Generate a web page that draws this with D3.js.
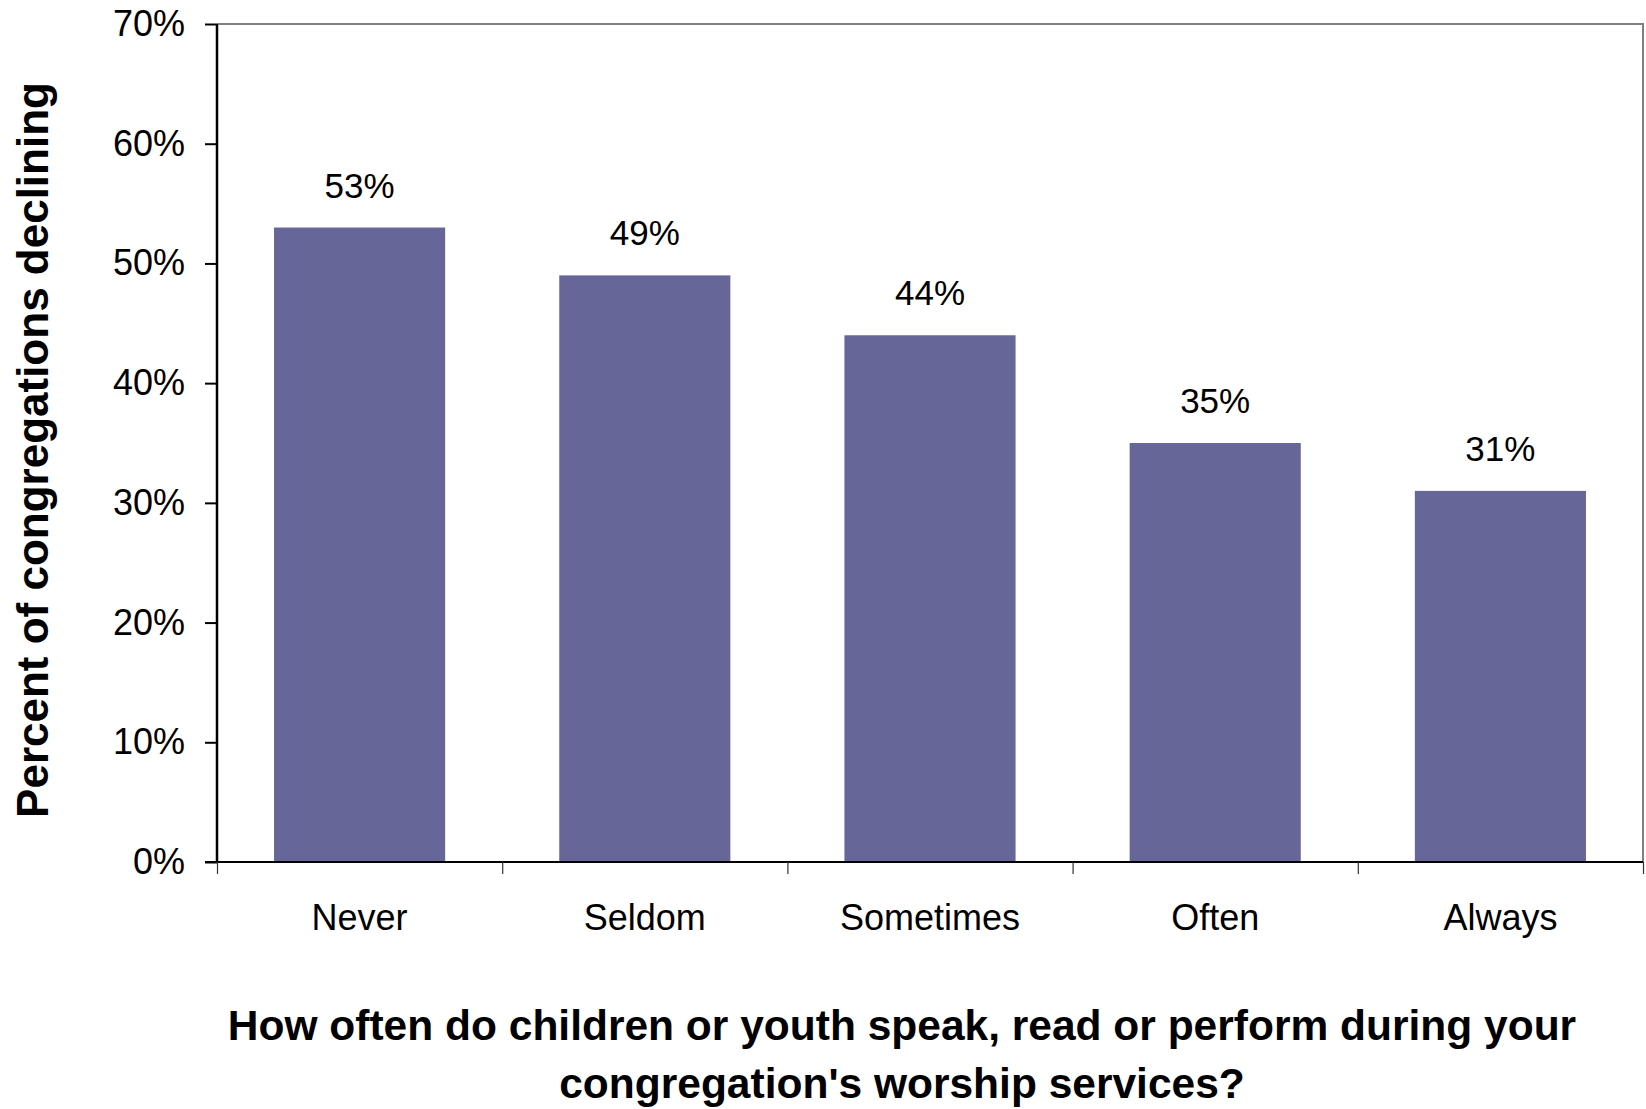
<!DOCTYPE html>
<html>
<head>
<meta charset="utf-8">
<script src="https://cdn.jsdelivr.net/npm/d3@7"></script>
<style>
  html, body { margin: 0; padding: 0; background: #fff; }
  svg { display: block; }
  text { font-family: "Liberation Sans", Arial, sans-serif; fill: #000; }
</style>
</head>
<body>
<svg id="chart" width="1646" height="1109"></svg>
<script>
const categories = ["Never", "Seldom", "Sometimes", "Often", "Always"];
const values = [0.53, 0.49, 0.44, 0.35, 0.31];
const yTicks = [0, 0.1, 0.2, 0.3, 0.4, 0.5, 0.6, 0.7];
const yTitle = "Percent of congregations declining";
const xTitleLines = ["How often do children or youth speak, read or perform during your",
                     "congregation's worship services?"];

const svg = d3.select("#chart");
const m = { left: 217, right: 1643, top: 24, bottom: 862 };

const x = d3.scaleBand().domain(categories).range([m.left, m.right])
  .paddingInner(0.4).paddingOuter(0.2);
const xEdges = d3.scaleLinear().domain([0, categories.length]).range([m.left, m.right]);
const y = d3.scaleLinear().domain([0, 0.7]).range([m.bottom, m.top]);

// plot frame top & right (gray)
svg.append("path")
  .attr("d", `M${m.left},${m.top}H${m.right}V${m.bottom}`)
  .attr("fill", "none").attr("stroke", "#808080").attr("stroke-width", 2);

// bars
svg.append("g").selectAll("rect").data(values).join("rect")
  .attr("x", (d, i) => x(categories[i]))
  .attr("width", x.bandwidth())
  .attr("y", d => y(d))
  .attr("height", d => y(0) - y(d))
  .attr("fill", "#666699");

// value labels
svg.append("g").selectAll("text").data(values).join("text")
  .attr("x", (d, i) => x(categories[i]) + x.bandwidth() / 2)
  .attr("y", d => y(d) - 30)
  .attr("text-anchor", "middle")
  .attr("font-size", 35)
  .text(d => d3.format(".0%")(d));

// y axis
const yAxis = svg.append("g").attr("transform", `translate(${m.left},0)`)
  .call(d3.axisLeft(y).tickValues(yTicks).tickFormat(d3.format(".0%"))
    .tickSize(12).tickPadding(20));
yAxis.select(".domain").attr("stroke", "#000").attr("stroke-width", 2.5)
  .attr("d", `M0,${m.top}V${m.bottom}`);
yAxis.selectAll(".tick line").attr("stroke", "#000").attr("stroke-width", 2);
yAxis.selectAll(".tick text").attr("font-size", 36)
  .attr("font-family", "Liberation Sans, Arial, sans-serif").attr("fill", "#000");

// x axis (ticks at category boundaries)
const xAxis = svg.append("g").attr("transform", `translate(0,${m.bottom})`)
  .call(d3.axisBottom(xEdges).tickValues(d3.range(categories.length + 1))
    .tickFormat("").tickSize(12));
xAxis.select(".domain").attr("stroke", "#000").attr("stroke-width", 2)
  .attr("d", `M${m.left - 12},0H${m.right}`);
xAxis.selectAll(".tick line").attr("stroke", "#333").attr("stroke-width", 1.2);

// category labels
svg.append("g").selectAll("text").data(categories).join("text")
  .attr("x", d => x(d) + x.bandwidth() / 2)
  .attr("y", 930)
  .attr("text-anchor", "middle")
  .attr("font-size", 36)
  .text(d => d);

// y title
svg.append("text")
  .attr("transform", "rotate(-90)")
  .attr("x", -450).attr("y", 48)
  .attr("text-anchor", "middle")
  .attr("font-size", 44).attr("font-weight", "bold")
  .text(yTitle);

// x title
svg.append("g").selectAll("text").data(xTitleLines).join("text")
  .attr("x", 902)
  .attr("y", (d, i) => 1040 + i * 58)
  .attr("text-anchor", "middle")
  .attr("font-size", 42.5).attr("font-weight", "bold")
  .text(d => d);
</script>
</body>
</html>
